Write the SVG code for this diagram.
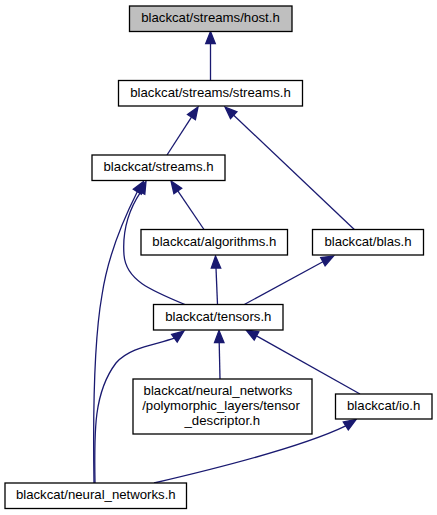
<svg xmlns="http://www.w3.org/2000/svg" width="437" height="515" viewBox="0 0 437 515">
<style>
.node rect{fill:#ffffff;stroke:#000000;stroke-width:1.3}
.node.root rect{fill:#bfbfbf}
.node text{font-family:"Liberation Sans",Arial,Helvetica,sans-serif;font-size:13.2px;fill:#000000;text-anchor:middle}
.edges path{fill:none;stroke:#191970;stroke-width:1.3}
.edges polygon{fill:#191970;stroke:#191970;stroke-width:1.3}
</style>
<rect width="437" height="515" fill="#ffffff"/>
<g id="edges" class="edges">
<path d="M210.5,80.5 L210.5,43.5"/>
<polygon points="210.5,31.5 215.3,43.5 205.7,43.5"/>
<path d="M167,155 L191.5,117.1"/>
<polygon points="198,107 195.4,119.6 187.5,114.5"/>
<path d="M354.3,229.5 L233.7,115.2"/>
<polygon points="225,107 236.9,111.8 230.5,118.6"/>
<path d="M204,229.5 L177.8,190.9"/>
<polygon points="171,181 181.7,188.3 173.9,193.6"/>
<path d="M185,304.5 C150,290 126,280 124,255 C122,228 130,208 140.6,192.2"/>
<polygon points="146,181.5 144.8,194.3 136.4,190.1"/>
<path d="M94,483 C93,420 94,340 102,295 C108,255 122,222 137.3,191.7"/>
<polygon points="143.5,181.5 141.3,194.2 133.3,189.3"/>
<path d="M217.5,304.5 L216,268"/>
<polygon points="215.5,256 220.7,268 211.3,268"/>
<path d="M244.3,304.5 L322.9,261.7"/>
<polygon points="333.5,256 325.1,265.8 320.7,257.6"/>
<path d="M220,379 L219.2,342.5"/>
<polygon points="219,330.5 224,342.5 214.5,342.6"/>
<path d="M360,394 L256.5,335.9"/>
<polygon points="246,330 258.8,331.8 254.2,340"/>
<path d="M95,483 C94,430 94,392 116,363 C130,347 155,345 174.4,338.2"/>
<polygon points="184,331 177.2,342 171.6,334.4"/>
<path d="M154,483 C210,470 300,448 345.8,425.9"/>
<polygon points="356,419.5 348.3,429.9 343.3,421.9"/>
</g>
<g id="node_host" class="node root">
<rect x="129.5" y="6" width="162.5" height="25.5"/>
<text x="210.5" y="22">blackcat/streams/host.h</text>
</g>
<g id="node_streams_streams" class="node">
<rect x="118.5" y="80.5" width="184" height="25.5"/>
<text x="210.5" y="97">blackcat/streams/streams.h</text>
</g>
<g id="node_streams" class="node">
<rect x="92" y="155" width="133" height="25.5"/>
<text x="158.5" y="171">blackcat/streams.h</text>
</g>
<g id="node_algorithms" class="node">
<rect x="141" y="229.5" width="146.5" height="25.5"/>
<text x="214.3" y="245.7">blackcat/algorithms.h</text>
</g>
<g id="node_blas" class="node">
<rect x="312.5" y="229.5" width="111" height="25.5"/>
<text x="368" y="245.7">blackcat/blas.h</text>
</g>
<g id="node_tensors" class="node">
<rect x="153.5" y="304.5" width="129.5" height="25.5"/>
<text x="218.3" y="320.5">blackcat/tensors.h</text>
</g>
<g id="node_tensor_descriptor" class="node">
<rect x="133" y="379" width="179" height="55"/>
<text x="218" y="395">blackcat/neural_networks</text>
<text x="221" y="410">/polymorphic_layers/tensor</text>
<text x="222.3" y="424.5">_descriptor.h</text>
</g>
<g id="node_io" class="node">
<rect x="335.5" y="394" width="96.5" height="25"/>
<text x="383.7" y="410">blackcat/io.h</text>
</g>
<g id="node_neural_networks" class="node">
<rect x="5" y="483" width="181.5" height="25.5"/>
<text x="95.8" y="499">blackcat/neural_networks.h</text>
</g>
</svg>
